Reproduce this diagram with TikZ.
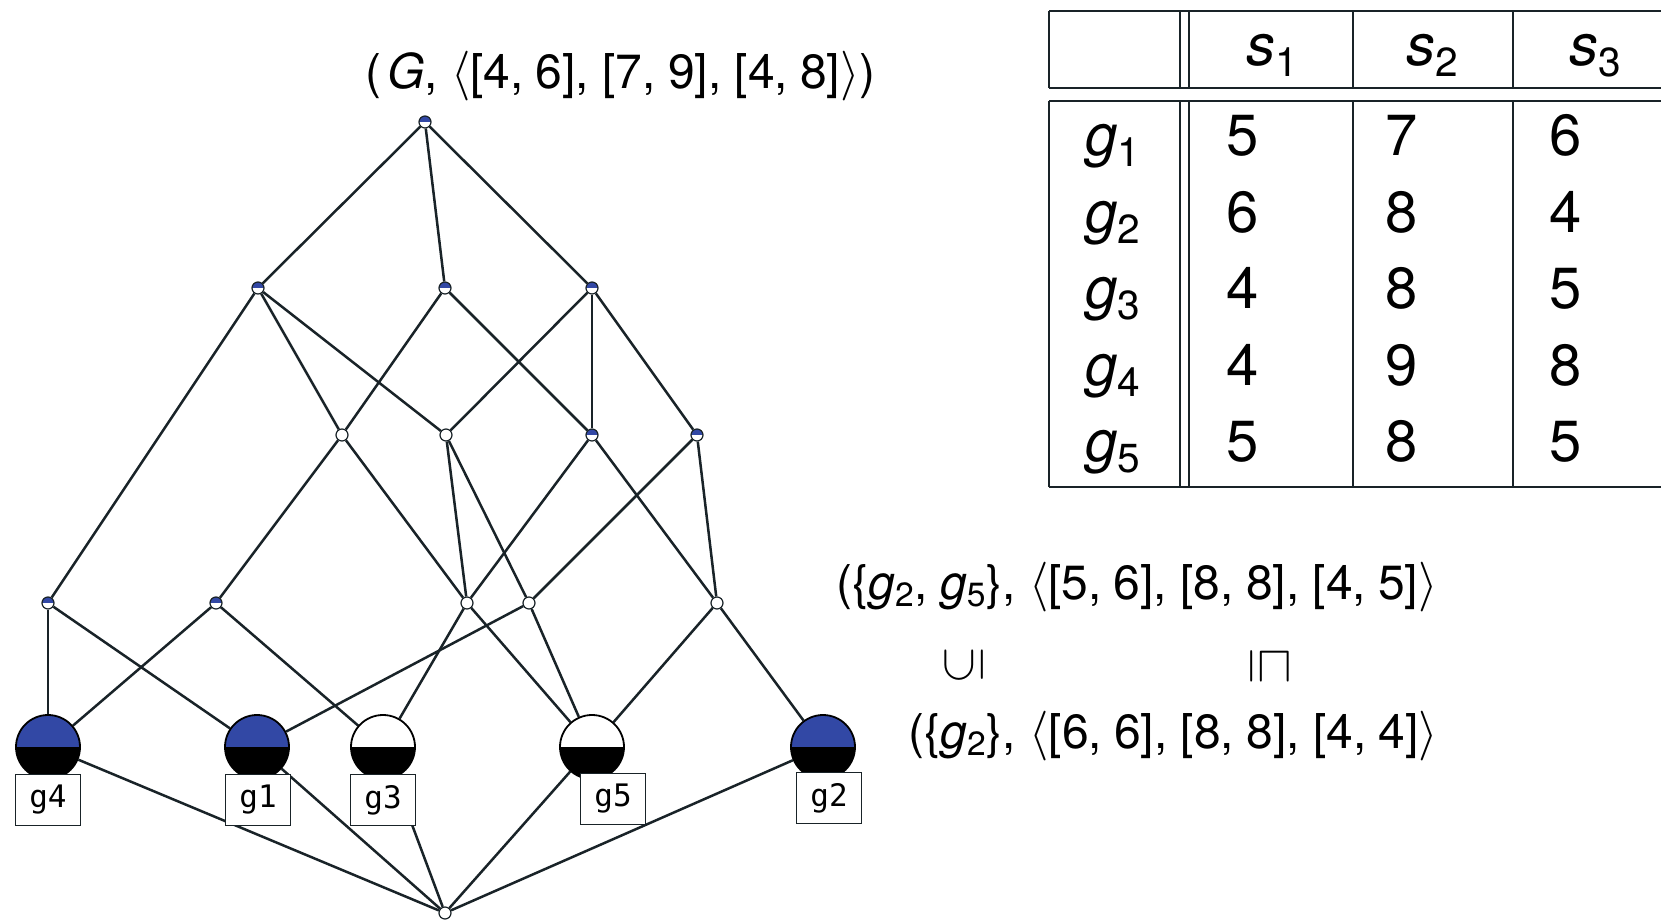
\documentclass[tikz,border=0pt]{standalone}
\usepackage{fontspec}
\usepackage{graphicx}
\setmainfont{TeX Gyre Heros}
\newfontfamily\boxfont{DejaVu Sans Mono}
\usetikzlibrary{backgrounds}

\definecolor{nodeblue}{RGB}{50,72,165}
\definecolor{ink}{RGB}{25,35,40}

\newcommand{\gsb}[1]{\textit{g}\textsubscript{#1}}
\newcommand{\svar}[1]{\textit{s}\textsubscript{#1}}
\newcommand{\lang}{$\langle$}
\newcommand{\rang}{$\rangle$}
\newcommand{\cs}{,\hspace{0.25em}}

\tikzset{
  edge/.style={line width=1.25pt, draw=ink},
  small/.style={circle, draw=ink, line width=0.6pt, minimum size=6pt, inner sep=0pt, fill=white},
  smallblue/.style={small, path picture={\fill[nodeblue] (path picture bounding box.north west) rectangle (path picture bounding box.east);}},
  obj/.style={circle, draw=black, line width=0.9pt, minimum size=32pt, inner sep=0pt, fill=white,
    path picture={\fill[black] (path picture bounding box.south west) rectangle (path picture bounding box.east);}},
  objblue/.style={circle, draw=black, line width=0.9pt, minimum size=32pt, inner sep=0pt, fill=nodeblue,
    path picture={\fill[black] (path picture bounding box.south west) rectangle (path picture bounding box.east);}},
  objlab/.style={draw=ink, line width=0.9pt, fill=white, minimum width=32.5pt, minimum height=25.5pt, inner sep=0pt,
    font=\boxfont\fontsize{15.5}{15.5}\selectfont},
  lbl/.style={inner sep=0pt, font=\fontsize{24}{28}\selectfont},
  tab/.style={line width=0.9pt, draw=ink},
  cell/.style={inner sep=0pt, anchor=base west, font=\fontsize{29}{32}\selectfont},
}

\begin{document}
\begin{tikzpicture}[x=0.5pt,y=-0.5pt]
\useasboundingbox (0,0) rectangle (1661,921);

% ---- lattice nodes ----
\node[smallblue] (T) at (425,122) {};
\node[smallblue] (A) at (258,288) {};
\node[smallblue] (B) at (445,288) {};
\node[smallblue] (C) at (592,288) {};
\node[small] (D) at (342,435) {};
\node[small] (E) at (446,435) {};
\node[smallblue] (F) at (592,435) {};
\node[smallblue] (H) at (697,435) {};
\node[smallblue] (I) at (48,603) {};
\node[smallblue] (J) at (216,603) {};
\node[small] (K) at (467,603) {};
\node[small] (L) at (529,603) {};
\node[small] (M) at (717,603) {};
\node[objblue] (g4) at (48,747) {};
\node[objblue] (g1) at (257,747) {};
\node[obj] (g3) at (383,747) {};
\node[obj] (g5) at (592,747) {};
\node[objblue] (g2) at (823,747) {};
\node[small] (Bot) at (445,913) {};

\begin{scope}[on background layer]
\fill[white] (0,0) rectangle (1661,921);
\foreach \a/\b in {T/A,T/B,T/C,A/I,A/D,A/E,B/D,B/F,C/E,C/F,C/H,D/J,D/K,E/K,E/L,F/K,F/M,H/L,H/M,
                   I/g4,I/g1,J/g4,J/g3,K/g3,K/g5,L/g1,L/g5,M/g5,M/g2,
                   g4/Bot,g1/Bot,g3/Bot,g5/Bot,g2/Bot}
  \draw[edge] (\a) -- (\b);
\end{scope}

% ---- object labels ----
\node[objlab] (lg4) at (48,800) {g4};
\node[objlab] (lg1) at (258,800) {g1};
\node[objlab] (lg3) at (383,800) {g3};
\node[objlab] (lg5) at (613,799) {g5};
\node[objlab] (lg2) at (829,798) {g2};

% ---- annotations ----
\node[lbl, anchor=base west] (toplab) at (365,88) {(\hspace{0.12em}\textit{G}, \lang[4\cs 6], [7\cs 9], [4\cs 8]\rang)};
\node[lbl, anchor=base west] (uplab) at (836,599) {(\{\gsb{2}\cs\gsb{5}\}, \lang[5\cs 6], [8\cs 8], [4\cs 5]\rang};
\node[lbl] (subs) at (964,665) {\rotatebox{90}{$\subseteq$}};
\node[lbl] (sqsub) at (1270,666) {\rotatebox{-90}{$\sqsubseteq$}};
\node[lbl, anchor=base west] (lowlab) at (908,748) {(\{\gsb{2}\}, \lang[6\cs 6], [8\cs 8], [4\cs 4]\rang};

% ---- table ----
\draw[tab] (1049,11) -- (1661,11);
\draw[tab] (1049,88) -- (1661,88);
\draw[tab] (1049,101) -- (1661,101);
\draw[tab] (1049,487) -- (1661,487);
\foreach \x in {1049,1180,1189,1353,1513}{
  \draw[tab] (\x,11) -- (\x,88);
  \draw[tab] (\x,101) -- (\x,487);
}
\node[cell] (h1) at (1246,65) {\svar{1}};
\node[cell] (h2) at (1406,65) {\svar{2}};
\node[cell] (h3) at (1569,65) {\svar{3}};
\foreach \r/\y/\a/\b/\c in {1/155/5/7/6, 2/232/6/8/4, 3/308/4/8/5, 4/385/4/9/8, 5/461/5/8/5}{
  \node[cell] (rg\r) at (1085,\y) {\gsb{\r}};
  \node[cell] (ra\r) at (1226,\y) {\a};
  \node[cell] (rb\r) at (1385,\y) {\b};
  \node[cell] (rc\r) at (1549,\y) {\c};
}
\end{tikzpicture}
\end{document}
